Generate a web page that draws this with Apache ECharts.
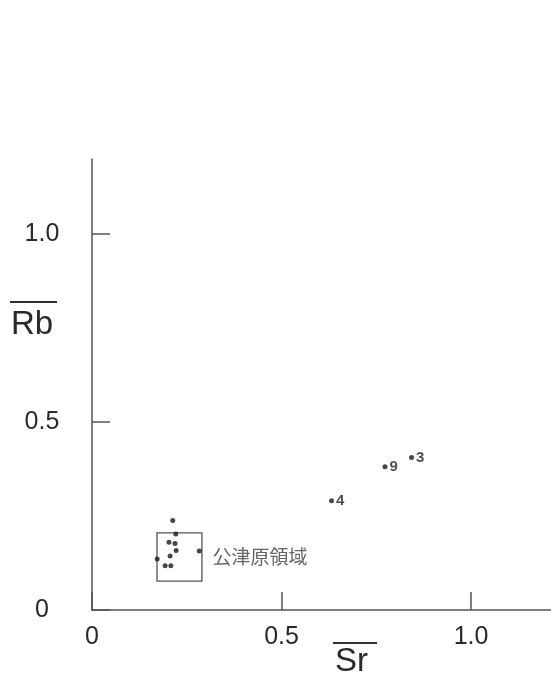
<!DOCTYPE html>
<html>
<head>
<meta charset="utf-8">
<script src="https://cdn.jsdelivr.net/npm/echarts@6/dist/echarts.min.js"></script>
<style>html,body{margin:0;padding:0;background:#fff}#c{width:551px;height:680px}</style>
</head>
<body>
<div id="c"></div>
<script>
// Cluster of points (Kozuhara region)
const clusterX = [0.213, 0.221, 0.203, 0.219, 0.222, 0.283, 0.206, 0.172, 0.193, 0.208];
const clusterY = [0.238, 0.202, 0.180, 0.177, 0.158, 0.157, 0.144, 0.136, 0.118, 0.118];
// Numbered points
const labeledNames = ['4', '9', '3'];
const labeledX = [0.632, 0.773, 0.843];
const labeledY = [0.291, 0.381, 0.406];
// Region box [x0, y0, x1, y1]
const regionBox = [0.1715, 0.077, 0.290, 0.205];
const regionName = '公津原領域';
// Axis ticks
const xTickValues = [0, 0.5, 1.0];
const xTickLabels = ['0', '0.5', '1.0'];
const yTickValues = [0, 0.5, 1.0];
const yTickLabels = ['0', '0.5', '1.0'];
const xAxisName = 'Sr';
const yAxisName = 'Rb';

const chart = echarts.init(document.getElementById('c'));
const fontFam = '"Liberation Sans", Arial, sans-serif';
function fmt(values, labels) {
  return function (v) {
    for (let i = 0; i < values.length; i++) if (Math.abs(values[i] - v) < 1e-6) return labels[i];
    return '';
  };
}
const axisColor = '#555';
chart.setOption({
  animation: false,
  backgroundColor: '#fff',
  grid: { left: 92, right: 0, top: 159, bottom: 70 },
  xAxis: {
    type: 'value', min: 0, max: 1.211, interval: 0.5,
    splitLine: { show: false },
    axisLine: { lineStyle: { color: axisColor, width: 1.5 } },
    axisTick: { inside: true, length: 18, lineStyle: { color: axisColor, width: 1.5 } },
    axisLabel: { formatter: fmt(xTickValues, xTickLabels), fontSize: 25, color: '#2a2a2a', fontFamily: fontFam, margin: 15, showMaxLabel: false }
  },
  yAxis: {
    type: 'value', min: 0, max: 1.2, interval: 0.5,
    splitLine: { show: false },
    axisLine: { lineStyle: { color: axisColor, width: 1.5 } },
    axisTick: { inside: true, length: 18, lineStyle: { color: axisColor, width: 1.5 } },
    axisLabel: { formatter: fmt(yTickValues, yTickLabels), fontSize: 25, color: '#2a2a2a', fontFamily: fontFam, margin: 50, align: 'center', showMaxLabel: false }
  },
  graphic: [
    { type: 'text', left: 11, top: 308, style: { text: yAxisName, fontSize: 33, fill: '#2a2a2a', fontFamily: fontFam } },
    { type: 'line', shape: { x1: 10, y1: 302, x2: 57, y2: 302 }, style: { stroke: '#333', lineWidth: 2 } },
    { type: 'text', left: 335, top: 645, style: { text: xAxisName, fontSize: 33, fill: '#2a2a2a', fontFamily: fontFam } },
    { type: 'line', shape: { x1: 333, y1: 643, x2: 377, y2: 643 }, style: { stroke: '#333', lineWidth: 2 } }
  ],
  series: [
    {
      type: 'scatter',
      symbolSize: 5,
      itemStyle: { color: '#1a1a1a' },
      data: clusterX.map((x, i) => [x, clusterY[i]]),
      markArea: {
        silent: true,
        itemStyle: { color: 'rgba(0,0,0,0)', borderColor: '#555', borderWidth: 1.3 },
        label: { show: true, position: 'right', distance: 10, fontSize: 19, color: '#666', fontFamily: '"Noto Sans CJK JP", sans-serif' },
        data: [[
          { name: regionName, coord: [regionBox[0], regionBox[1]] },
          { coord: [regionBox[2], regionBox[3]] }
        ]]
      }
    },
    {
      type: 'scatter',
      symbolSize: 5,
      itemStyle: { color: '#1a1a1a' },
      label: { show: true, position: 'right', distance: 2, formatter: p => p.name, fontSize: 15, fontWeight: 'bold', color: '#222', fontFamily: fontFam },
      data: labeledX.map((x, i) => ({ name: labeledNames[i], value: [x, labeledY[i]] }))
    }
  ]
});
</script>
</body>
</html>
